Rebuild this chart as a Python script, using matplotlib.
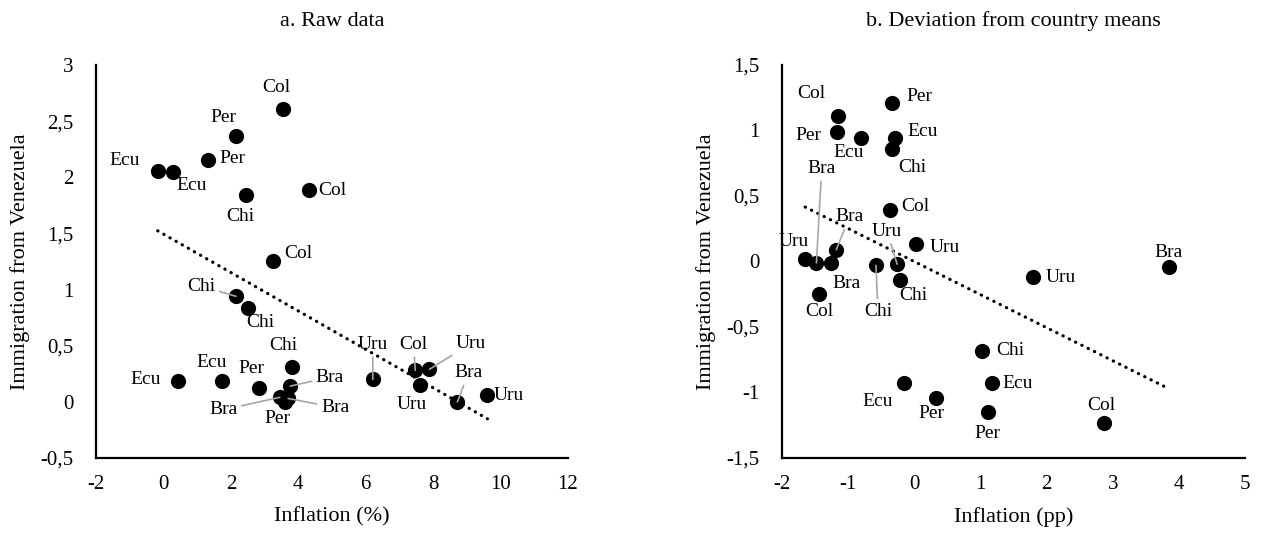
import numpy as np
import matplotlib.pyplot as plt

plt.rcParams['font.family'] = ['Liberation Serif', 'DejaVu Serif']

# === Panel a: raw data ===
raw_country = ['Col', 'Per', 'Per', 'Ecu', 'Ecu', 'Chi', 'Col', 'Col',
               'Chi', 'Chi', 'Chi', 'Ecu', 'Ecu', 'Per', 'Bra', 'Bra',
               'Per', 'Bra', 'Uru', 'Col', 'Uru', 'Uru', 'Bra', 'Uru']
raw_inflation = [3.54, 2.15, 1.33, -0.17, 0.29, 2.45, 4.32, 3.26,
                 2.15, 2.50, 3.81, 0.44, 1.75, 2.84, 3.76, 3.45,
                 3.60, 3.70, 6.21, 7.47, 7.89, 7.60, 8.72, 9.61]
raw_immigration = [2.61, 2.37, 2.15, 2.06, 2.05, 1.84, 1.89, 1.25,
                   0.94, 0.84, 0.31, 0.19, 0.19, 0.12, 0.14, 0.04,
                   0.00, 0.03, 0.20, 0.28, 0.29, 0.15, 0.00, 0.06]
# where each data label sits, and whether it has a leader line
raw_label_x = [3.36, 1.78, 2.06, -1.14, 0.84, 2.29, 5.00, 4.00,
               1.13, 2.87, 3.56, -0.52, 1.43, 2.62, 4.94, 1.78,
               3.38, 5.09, 6.21, 7.42, 9.12, 7.37, 9.05, 10.24]
raw_label_y = [2.80, 2.53, 2.17, 2.15, 1.93, 1.65, 1.88, 1.32,
               1.03, 0.71, 0.50, 0.20, 0.35, 0.30, 0.22, -0.07,
               -0.15, -0.05, 0.51, 0.51, 0.52, -0.02, 0.26, 0.06]
raw_leader = [0, 0, 0, 0, 0, 0, 0, 0,
              1, 0, 0, 0, 0, 0, 1, 1,
              0, 1, 1, 1, 1, 0, 1, 0]

# === Panel b: deviation from country means ===
dev_country = ['Per', 'Col', 'Per', 'Ecu', 'Ecu', 'Chi', 'Bra', 'Col',
               'Bra', 'Uru', 'Uru', 'Uru', 'Bra', 'Chi', 'Chi', 'Col',
               'Chi', 'Ecu', 'Ecu', 'Per', 'Per', 'Uru', 'Bra', 'Col']
dev_inflation = [-0.34, -1.15, -1.17, -0.80, -0.29, -0.33, -1.48, -0.36,
                 -1.18, -0.26, 0.02, -1.65, -1.26, -0.58, -0.21, -1.44,
                 1.03, -0.15, 1.17, 0.33, 1.12, 1.80, 3.85, 2.87]
dev_immigration = [1.21, 1.11, 0.99, 0.94, 0.94, 0.86, -0.01, 0.39,
                   0.09, -0.02, 0.13, 0.02, -0.01, -0.03, -0.14, -0.25,
                   -0.68, -0.93, -0.93, -1.04, -1.15, -0.12, -0.04, -1.23]
dev_label_x = [0.07, -1.55, -1.60, -1.00, 0.13, -0.03, -1.40, 0.01,
               -0.98, -0.41, 0.46, -1.82, -1.02, -0.55, -0.01, -1.44,
               1.45, -0.56, 1.56, 0.26, 1.10, 2.22, 3.85, 2.82]
dev_label_y = [1.26, 1.28, 0.96, 0.83, 0.99, 0.72, 0.71, 0.42,
               0.34, 0.23, 0.11, 0.15, -0.17, -0.38, -0.26, -0.38,
               -0.68, -1.07, -0.93, -1.16, -1.31, -0.12, 0.07, -1.10]
dev_leader = [0, 0, 0, 0, 0, 0, 1, 0,
              1, 1, 0, 0, 0, 1, 0, 0,
              0, 0, 0, 0, 0, 0, 0, 0]

raw_xticks = [-2, 0, 2, 4, 6, 8, 10, 12]
raw_yticks = [-0.5, 0, 0.5, 1, 1.5, 2, 2.5, 3]
raw_ytick_labels = ['-0,5', '0', '0,5', '1', '1,5', '2', '2,5', '3']
dev_xticks = [-2, -1, 0, 1, 2, 3, 4, 5]
dev_yticks = [-1.5, -1, -0.5, 0, 0.5, 1, 1.5]
dev_ytick_labels = ['-1,5', '-1', '-0,5', '0', '0,5', '1', '1,5']


def draw_panel(ax, countries, xs, ys, lab_x, lab_y, leaders,
               xticks, yticks, ytick_labels, xlabel, title):
    xs = np.array(xs)
    ys = np.array(ys)

    # linear trendline, drawn over the range of the data (Excel style)
    slope, intercept = np.polyfit(xs, ys, 1)
    tx = np.array([xs.min(), xs.max()])
    ax.plot(tx, slope * tx + intercept, color='black', lw=2.3,
            linestyle=(0, (0.1, 2.1)), dash_capstyle='round', zorder=2)

    ax.scatter(xs, ys, s=120, color='black', zorder=3, linewidths=0)

    for name, x, y, lx, ly, lead in zip(countries, xs, ys, lab_x, lab_y, leaders):
        if lead:
            ax.annotate(name, xy=(x, y), xytext=(lx, ly), fontsize=14,
                        ha='center', va='center', zorder=4,
                        arrowprops=dict(arrowstyle='-', color='#a6a6a6', lw=1.2,
                                        shrinkA=1, shrinkB=0))
        else:
            ax.text(lx, ly, name, fontsize=14, ha='center', va='center', zorder=4)

    ax.set_xlim(xticks[0], xticks[-1])
    ax.set_ylim(yticks[0], yticks[-1])
    ax.set_xticks(xticks)
    ax.set_xticklabels([str(t) for t in xticks])
    ax.set_yticks(yticks)
    ax.set_yticklabels(ytick_labels)
    ax.tick_params(length=0, labelsize=15)
    ax.tick_params(axis='x', pad=12)
    ax.tick_params(axis='y', pad=16)

    for side in ['top', 'right']:
        ax.spines[side].set_visible(False)
    for side in ['left', 'bottom']:
        ax.spines[side].set_linewidth(1.6)
        ax.spines[side].set_color('black')

    ax.set_xlabel(xlabel, fontsize=16, labelpad=10)
    ax.set_ylabel('Immigration from Venezuela', fontsize=16, labelpad=8)
    ax.set_title(title, fontsize=16, pad=28)


fig = plt.figure(figsize=(12.65, 5.38), dpi=100)
ax_a = fig.add_axes([0.0759, 0.1487, 0.3731, 0.7305])
ax_b = fig.add_axes([0.6182, 0.1487, 0.3660, 0.7305])

draw_panel(ax_a, raw_country, raw_inflation, raw_immigration,
           raw_label_x, raw_label_y, raw_leader,
           raw_xticks, raw_yticks, raw_ytick_labels,
           'Inflation (%)', 'a. Raw data')
draw_panel(ax_b, dev_country, dev_inflation, dev_immigration,
           dev_label_x, dev_label_y, dev_leader,
           dev_xticks, dev_yticks, dev_ytick_labels,
           'Inflation (pp)', 'b. Deviation from country means')

fig.savefig('out.png', dpi=100)
